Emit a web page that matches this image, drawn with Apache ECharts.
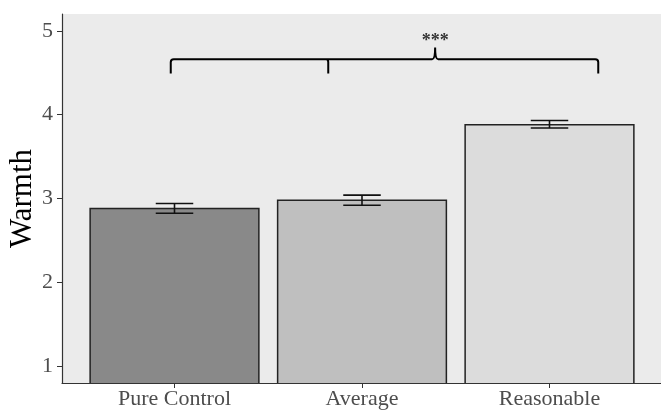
<!DOCTYPE html>
<html>
<head>
<meta charset="utf-8">
<script src="https://cdn.jsdelivr.net/npm/echarts@6/dist/echarts.min.js"></script>
<style>
  html, body { margin: 0; padding: 0; background: #fff; }
  #chart { width: 661px; height: 410px; }
</style>
</head>
<body>
<div id="chart"></div>
<script>
const categories = ["Pure Control", "Average", "Reasonable"];
const means = [2.88, 2.98, 3.88];
const errLow = [2.825, 2.92, 3.84];
const errHigh = [2.94, 3.04, 3.93];
const barColors = ["#898989", "#bfbfbf", "#dcdcdc"];

// brace annotation: x in category units, y in Warmth units
const braceX = [-0.02, 0.82, 1.39, 2.26]; // left end, mid tick, peak, right end
const braceY = [4.49, 4.66, 4.80];        // ends, line, peak
const sigLabel = "***";
const sigY = 4.87;

const serif = "'Liberation Serif', 'DejaVu Serif', serif";
const chart = echarts.init(document.getElementById("chart"));

const option = {
  animation: false,
  grid: {
    left: 62, right: -1, top: 14, bottom: 27,
    outerBoundsMode: "none",
    containLabel: false,
    show: true, backgroundColor: "#ebebeb", borderWidth: 0
  },
  xAxis: {
    type: "value",
    min: -0.6,
    max: 2.6,
    splitLine: { show: false },
    axisLine: { show: true, onZero: false, lineStyle: { color: "#333", width: 1.2 } },
    axisTick: { show: true, customValues: [0, 1, 2], length: 5, lineStyle: { color: "#333" } },
    axisLabel: {
      customValues: [0, 1, 2],
      formatter: (v) => categories[Math.round(v)],
      fontFamily: serif, fontSize: 22, color: "#4d4d4d", margin: 5
    }
  },
  yAxis: {
    type: "value",
    min: 0.8,
    max: 5.2,
    name: "Warmth",
    nameLocation: "middle",
    nameRotate: 90,
    nameGap: 24,
    nameMoveOverlap: false,
    nameTextStyle: { fontFamily: serif, fontSize: 31, color: "#000" },
    splitLine: { show: false },
    axisLine: { show: true, onZero: false, lineStyle: { color: "#333", width: 1.2 } },
    axisTick: { show: true, customValues: [1, 2, 3, 4, 5], length: 5, lineStyle: { color: "#333" } },
    axisLabel: {
      customValues: [1, 2, 3, 4, 5],
      fontFamily: serif, fontSize: 22, color: "#4d4d4d", margin: 9
    }
  },
  series: [
    {
      type: "custom",
      clip: true,
      data: means.map((m, i) => [i, m]),
      renderItem: (params, api) => {
        const i = api.value(0);
        const p1 = api.coord([i - 0.45, api.value(1)]);
        const p2 = api.coord([i + 0.45, 0.8]);
        return {
          type: "rect",
          shape: { x: p1[0], y: p1[1], width: p2[0] - p1[0], height: p2[1] - p1[1] + 3 },
          style: { fill: barColors[i], stroke: "#222", lineWidth: 1.5 }
        };
      }
    },
    {
      type: "custom",
      data: means.map((m, i) => [i, errLow[i], errHigh[i]]),
      renderItem: (params, api) => {
        const i = api.value(0);
        const lo = api.coord([i, api.value(1)]);
        const hi = api.coord([i, api.value(2)]);
        const half = api.size([0.1, 0])[0];
        const st = { stroke: "#111", lineWidth: 1.6 };
        return {
          type: "group",
          children: [
            { type: "line", shape: { x1: lo[0], y1: lo[1], x2: hi[0], y2: hi[1] }, style: st },
            { type: "line", shape: { x1: lo[0] - half, y1: lo[1], x2: lo[0] + half, y2: lo[1] }, style: st },
            { type: "line", shape: { x1: hi[0] - half, y1: hi[1], x2: hi[0] + half, y2: hi[1] }, style: st }
          ]
        };
      }
    },
    {
      type: "custom",
      data: [[0]],
      renderItem: (params, api) => {
        const yEnd = api.coord([0, braceY[0]])[1];
        const yLine = api.coord([0, braceY[1]])[1];
        const yPeak = api.coord([0, braceY[2]])[1];
        const x0 = api.coord([braceX[0], 0])[0];
        const xm = api.coord([braceX[1], 0])[0];
        const xp = api.coord([braceX[2], 0])[0];
        const x3 = api.coord([braceX[3], 0])[0];
        const r = 3;
        const d =
          `M${x0},${yEnd} L${x0},${yLine + r} Q${x0},${yLine} ${x0 + r},${yLine} ` +
          `L${xp - 3},${yLine} Q${xp},${yLine} ${xp},${yPeak} Q${xp},${yLine} ${xp + 3},${yLine} ` +
          `L${x3 - r},${yLine} Q${x3},${yLine} ${x3},${yLine + r} L${x3},${yEnd} ` +
          `M${xm - 2},${yLine} Q${xm},${yLine} ${xm},${yLine + r} L${xm},${yEnd}`;
        const t = api.coord([braceX[2], sigY]);
        return {
          type: "group",
          children: [
            { type: "path", shape: { pathData: d }, style: { fill: null, stroke: "#000", lineWidth: 2 } },
            {
              type: "text", x: t[0], y: t[1],
              style: { text: sigLabel, font: "bold 18px " + serif, fill: "#333", align: "center", verticalAlign: "middle" }
            }
          ]
        };
      }
    }
  ]
};

chart.setOption(option);
</script>
</body>
</html>
